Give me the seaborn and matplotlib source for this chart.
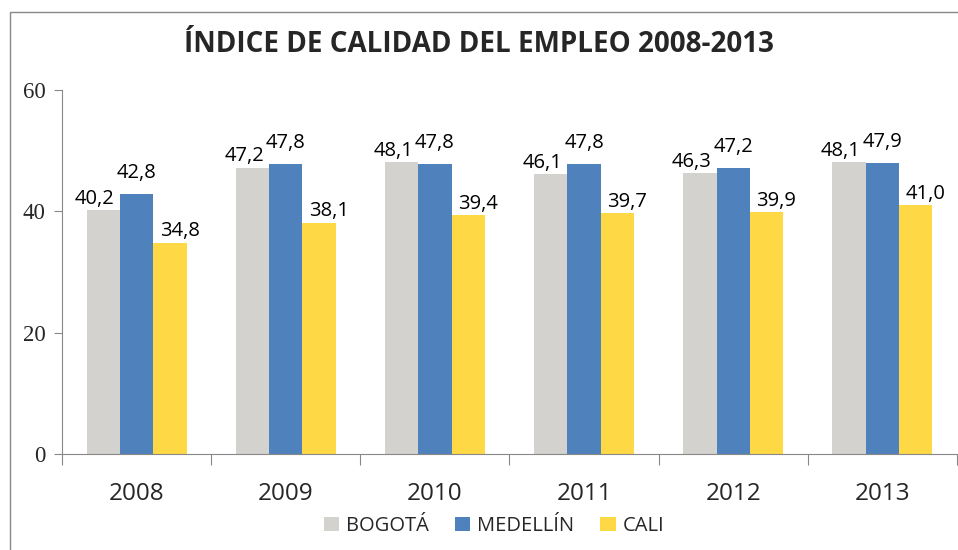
import pandas as pd
import seaborn as sns
import matplotlib.pyplot as plt
from matplotlib.patches import Rectangle

years = ["2008", "2009", "2010", "2011", "2012", "2013"]
ciudades = ["BOGOTÁ", "MEDELLÍN", "CALI"]
bogota = [40.2, 47.2, 48.1, 46.1, 46.3, 48.1]
medellin = [42.8, 47.8, 47.8, 47.8, 47.2, 47.9]
cali = [34.8, 38.1, 39.4, 39.7, 39.9, 41.0]
colores = ["#D3D2CE", "#4F81BD", "#FFD846"]

df = pd.DataFrame({
    "year": years * 3,
    "ciudad": [c for c in ciudades for _ in years],
    "valor": bogota + medellin + cali,
})

sns.set_style("white")
plt.rcParams["font.family"] = ["Open Sans", "DejaVu Sans"]

fig = plt.figure(figsize=(9.58, 5.5), dpi=100)
ax = fig.add_axes([62 / 958, 1 - 454 / 550, 895 / 958, 364 / 550])

sns.barplot(data=df, x="year", y="valor", hue="ciudad", order=years,
            hue_order=ciudades, palette=colores, width=0.67, gap=0,
            saturation=1, edgecolor="none", linewidth=0, ax=ax, legend=True)

# etiquetas de datos, un poco desplazadas como en excel
offsets = [(-6, 1), (0, 8), (7, 1)]
for cont, (dx, dy) in zip(ax.containers, offsets):
    for bar in cont:
        h = bar.get_height()
        ax.annotate(f"{h:.1f}".replace(".", ","),
                    (bar.get_x() + bar.get_width() / 2, h),
                    xytext=(dx, dy), textcoords="offset points",
                    ha="center", va="bottom", fontsize=14.5, color="black")

ax.set_xlim(-0.5, 5.5)
ax.set_ylim(0, 60)
ax.set_yticks([0, 20, 40, 60])
ax.set_xlabel("")
ax.set_ylabel("")
for lab in ax.get_yticklabels():
    lab.set_family(["Liberation Serif", "DejaVu Serif"])
    lab.set_fontsize(16.5)
ax.tick_params(axis="y", length=6, width=0.8, color="#888888", pad=6, left=True)
ax.tick_params(axis="x", which="major", length=0, labelsize=17.5, pad=20)
ax.set_xticks([i - 0.5 for i in range(7)], minor=True)
ax.tick_params(axis="x", which="minor", length=8, width=0.8, color="#888888", bottom=True)
for s in ["top", "right"]:
    ax.spines[s].set_visible(False)
for s in ["left", "bottom"]:
    ax.spines[s].set_color("#888888")
    ax.spines[s].set_linewidth(0.8)

ax.legend(loc="center", bbox_to_anchor=(494 / 958, (550 - 526) / 550), bbox_transform=fig.transFigure,
          ncol=3, frameon=False, fontsize=14.5, handlelength=0.75, handleheight=0.75,
          handletextpad=0.35, columnspacing=1.3)

fig.text(0.5, 1 - 45 / 550, "ÍNDICE DE CALIDAD DEL EMPLEO 2008-2013",
         ha="center", va="center", fontsize=20, fontweight="bold")

# marco exterior
fig.add_artist(Rectangle((10 / 958, -0.01), 1.0, 1 - 12 / 550 + 0.01,
                         transform=fig.transFigure, fill=False,
                         edgecolor="#888888", linewidth=1))

fig.savefig("out.png", dpi=100)
